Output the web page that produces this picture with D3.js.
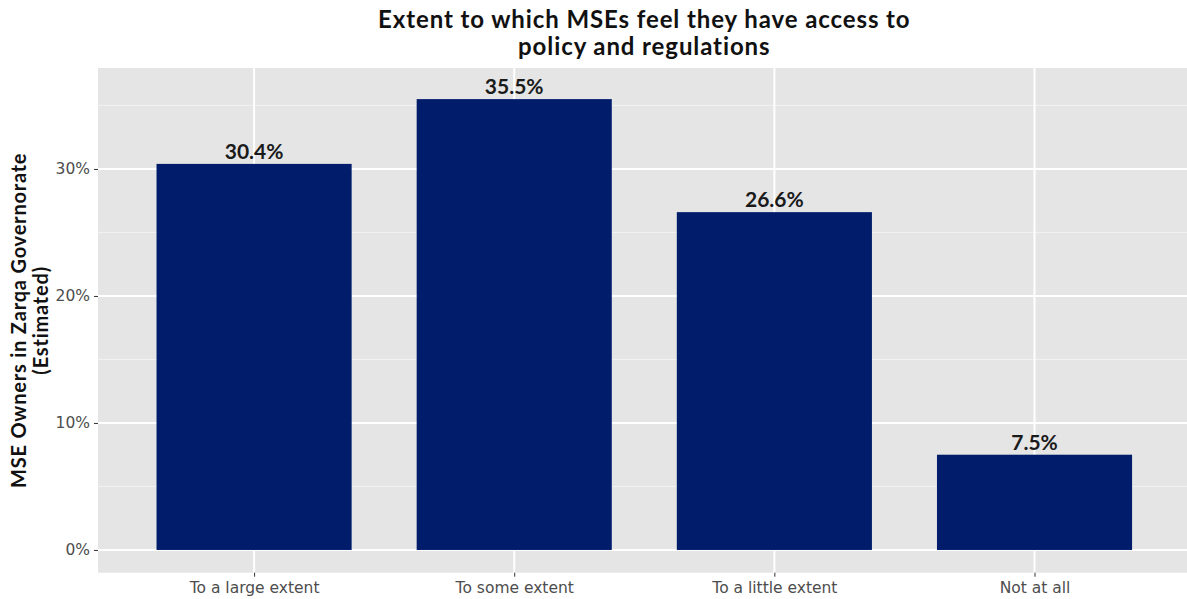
<!DOCTYPE html>
<html>
<head>
<meta charset="utf-8">
<script src="https://cdn.jsdelivr.net/npm/d3@7"></script>
<style>
  html, body { margin: 0; padding: 0; background: #fff; }
  svg { display: block; }
</style>
</head>
<body>
<svg id="chart" width="1187" height="599"></svg>
<script>
const categories = ["To a large extent", "To some extent", "To a little extent", "Not at all"];
const values = [30.4, 35.5, 26.6, 7.5];
const valueLabels = ["30.4%", "35.5%", "26.6%", "7.5%"];
const yTicks = [0, 10, 20, 30];
const yMinor = [5, 15, 25, 35];
const titleLines = ["Extent to which MSEs feel they have access to", "policy and regulations"];
const yTitleLines = ["MSE Owners in Zarqa Governorate", "(Estimated)"];

const svg = d3.select("#chart");
const panel = { left: 98, right: 1190.6, top: 68, bottom: 572.7 };
const font = "Lato, 'Open Sans', sans-serif";
const tickFont = "'DejaVu Sans', sans-serif";

const x = d3.scalePoint().domain(categories).range([panel.left, panel.right]).padding(0.6);
const step = x.step();
const barW = step * 0.75;
const y = d3.scaleLinear().domain([-1.79, 37.95]).range([panel.bottom, panel.top]);

svg.append("rect").attr("x", panel.left).attr("y", panel.top)
  .attr("width", panel.right - panel.left).attr("height", panel.bottom - panel.top)
  .attr("fill", "#e5e5e5");

svg.selectAll("line.ymin").data(yMinor).enter().append("line")
  .attr("x1", panel.left).attr("x2", panel.right)
  .attr("y1", d => y(d)).attr("y2", d => y(d))
  .attr("stroke", "#f2f2f2").attr("stroke-width", 1);
svg.selectAll("line.ymaj").data(yTicks).enter().append("line")
  .attr("x1", panel.left).attr("x2", panel.right)
  .attr("y1", d => y(d)).attr("y2", d => y(d))
  .attr("stroke", "#ffffff").attr("stroke-width", 2);
svg.selectAll("line.xmaj").data(categories).enter().append("line")
  .attr("x1", d => x(d)).attr("x2", d => x(d))
  .attr("y1", panel.top).attr("y2", panel.bottom)
  .attr("stroke", "#ffffff").attr("stroke-width", 2);

svg.selectAll("rect.bar").data(values).enter().append("rect")
  .attr("x", (d, i) => x(categories[i]) - barW / 2)
  .attr("width", barW)
  .attr("y", d => y(d))
  .attr("height", d => y(0) - y(d))
  .attr("fill", "#001c6a");

svg.selectAll("text.val").data(values).enter().append("text")
  .attr("x", (d, i) => x(categories[i]))
  .attr("y", d => y(d) - 5)
  .attr("text-anchor", "middle")
  .attr("font-family", font).attr("font-weight", "bold")
  .attr("font-size", 21).attr("fill", "#1a1a1a")
  .text((d, i) => valueLabels[i]);

const yAxis = d3.axisLeft(y).tickValues(yTicks).tickFormat(d => d + "%").tickSize(4).tickPadding(4);
const gy = svg.append("g").attr("transform", `translate(${panel.left},0)`).call(yAxis);
gy.select(".domain").remove();
gy.selectAll("line").attr("stroke", "#333").attr("stroke-width", 1);
gy.selectAll("text").attr("font-family", tickFont).attr("font-size", 15.5).attr("fill", "#4d4d4d");

const xAxis = d3.axisBottom(x).tickSize(4).tickPadding(5);
const gx = svg.append("g").attr("transform", `translate(0,${panel.bottom})`).call(xAxis);
gx.select(".domain").remove();
gx.selectAll("line").attr("stroke", "#333").attr("stroke-width", 1);
gx.selectAll("text").attr("font-family", tickFont).attr("font-size", 15.5).attr("fill", "#4d4d4d");

const tcx = (panel.left + panel.right) / 2;
svg.append("text").attr("x", tcx).attr("y", 28)
  .attr("text-anchor", "middle").attr("font-family", font).attr("font-weight", "bold")
  .attr("font-size", 24).attr("letter-spacing", 0.9).attr("fill", "#111")
  .selectAll("tspan").data(titleLines).enter().append("tspan")
  .attr("x", tcx).attr("dy", (d, i) => i === 0 ? 0 : 27).text(d => d);

const ycy = (panel.top + panel.bottom) / 2;
svg.append("text").attr("transform", `translate(26,${ycy}) rotate(-90)`)
  .attr("text-anchor", "middle").attr("font-family", font).attr("font-weight", "bold")
  .attr("font-size", 20).attr("letter-spacing", 0.8).attr("fill", "#111")
  .selectAll("tspan").data(yTitleLines).enter().append("tspan")
  .attr("x", 0).attr("dy", (d, i) => i === 0 ? 0 : 22).text(d => d);
</script>
</body>
</html>
